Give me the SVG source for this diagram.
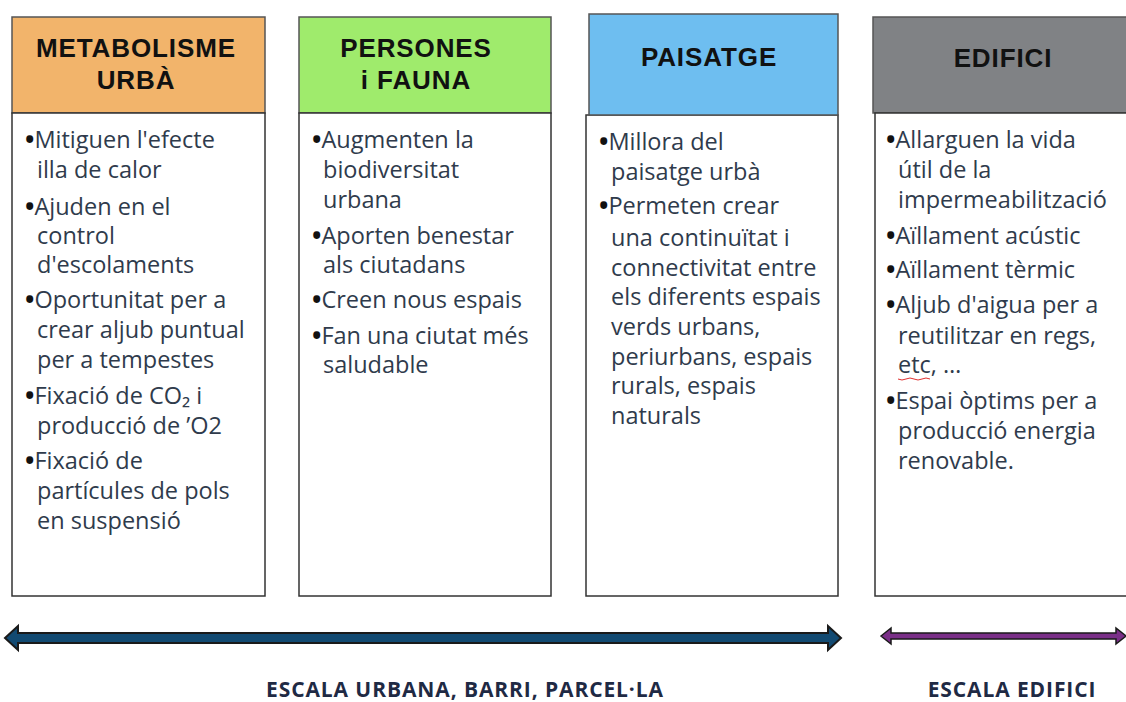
<svg xmlns="http://www.w3.org/2000/svg" width="1126" height="702" viewBox="0 0 1126 702">
<style>
.hdr{stroke:#555;stroke-width:1.5}
.body{fill:#fff;stroke:#333;stroke-width:1.5}
.ht{font-family:"Liberation Sans",Arial,sans-serif;font-weight:bold;font-size:26px;fill:#111;text-anchor:middle;letter-spacing:0.9px}
.bt{font-family:"Open Sans","Liberation Sans",sans-serif;font-size:23.5px;fill:#2f3b4c}
.b{font-weight:bold;font-size:25px;fill:#111}
.lab{font-family:"Open Sans","Liberation Sans",sans-serif;font-weight:bold;font-size:21px;fill:#1f2a44;text-anchor:middle;letter-spacing:0.9px}
</style>
<rect width="1126" height="702" fill="#fff"/>
<g id="metabolisme">
<rect class="hdr" x="12" y="17" width="253" height="96" fill="#f2b46b"/>
<text class="ht" x="136" y="57">METABOLISME</text>
<text class="ht" x="136" y="89">URBÀ</text>
<rect class="body" x="12" y="113" width="253" height="483"/>
<text class="bt"><tspan x="25" y="148"><tspan class="b">•</tspan>Mitiguen l'efecte</tspan><tspan x="37" y="178">illa de calor</tspan><tspan x="25" y="215"><tspan class="b">•</tspan>Ajuden en el</tspan><tspan x="37" y="244">control</tspan><tspan x="37" y="273">d'escolaments</tspan><tspan x="25" y="308"><tspan class="b">•</tspan>Oportunitat per a</tspan><tspan x="37" y="338">crear aljub puntual</tspan><tspan x="37" y="368">per a tempestes</tspan><tspan x="25" y="404"><tspan class="b">•</tspan>Fixació de CO₂ i</tspan><tspan x="37" y="434">producció de ’O2</tspan><tspan x="25" y="469"><tspan class="b">•</tspan>Fixació de</tspan><tspan x="37" y="499">partícules de pols</tspan><tspan x="37" y="529">en suspensió</tspan></text>
</g>
<g id="persones">
<rect class="hdr" x="299" y="17" width="252" height="96" fill="#9feb6c"/>
<text class="ht" x="416" y="57">PERSONES</text>
<text class="ht" x="416" y="89">i FAUNA</text>
<rect class="body" x="299" y="113" width="252" height="483"/>
<text class="bt"><tspan x="312" y="148"><tspan class="b">•</tspan>Augmenten la</tspan><tspan x="323" y="178">biodiversitat</tspan><tspan x="323" y="208">urbana</tspan><tspan x="312" y="244"><tspan class="b">•</tspan>Aporten benestar</tspan><tspan x="323" y="273">als ciutadans</tspan><tspan x="312" y="308"><tspan class="b">•</tspan>Creen nous espais</tspan><tspan x="312" y="344"><tspan class="b">•</tspan>Fan una ciutat més</tspan><tspan x="323" y="373">saludable</tspan></text>
</g>
<g id="paisatge">
<rect class="body" x="586" y="115" width="252" height="481"/>
<rect class="hdr" x="589" y="14" width="249" height="101" fill="#6ebef0"/>
<text class="ht" x="709" y="66">PAISATGE</text>
<text class="bt"><tspan x="599" y="150"><tspan class="b">•</tspan>Millora del</tspan><tspan x="611" y="180">paisatge urbà</tspan><tspan x="599" y="214"><tspan class="b">•</tspan>Permeten crear</tspan><tspan x="611" y="246">una continuïtat i</tspan><tspan x="611" y="276">connectivitat entre</tspan><tspan x="611" y="305">els diferents espais</tspan><tspan x="611" y="335">verds urbans,</tspan><tspan x="611" y="365">periurbans, espais</tspan><tspan x="611" y="394">rurals, espais</tspan><tspan x="611" y="424">naturals</tspan></text>
</g>
<g id="edifici">
<rect class="hdr" x="873" y="17" width="260" height="96" fill="#808285"/>
<text class="ht" x="1003" y="67">EDIFICI</text>
<rect class="body" x="875" y="113" width="260" height="483"/>
<text class="bt"><tspan x="886" y="148"><tspan class="b">•</tspan>Allarguen la vida</tspan><tspan x="898" y="178">útil de la</tspan><tspan x="898" y="208">impermeabilització</tspan><tspan x="886" y="244"><tspan class="b">•</tspan>Aïllament acústic</tspan><tspan x="886" y="278"><tspan class="b">•</tspan>Aïllament tèrmic</tspan><tspan x="886" y="313"><tspan class="b">•</tspan>Aljub d'aigua per a</tspan><tspan x="898" y="344">reutilitzar en regs,</tspan><tspan x="898" y="373">etc, …</tspan><tspan x="886" y="409"><tspan class="b">•</tspan>Espai òptims per a</tspan><tspan x="898" y="439">producció energia</tspan><tspan x="898" y="469">renovable.</tspan></text>
<path d="M898 379 q4 2 8 0 q4 -2 8 0 q4 2 8 0 q4 -2 8 0" fill="none" stroke="#e03030" stroke-width="1"/>
</g>
<g id="connectors">
<path d="M5 638 L18 626 L18 633 L828 633 L828 626 L841 638 L828 650 L828 643 L18 643 L18 650 Z" fill="#124a72" stroke="#1a1a1a" stroke-width="2" stroke-linejoin="miter"/>
<path d="M881 636 L891 628 L891 633 L1116 633 L1116 628 L1126 636 L1116 644 L1116 639 L891 639 L891 644 Z" fill="#7a2f88" stroke="#1a1a1a" stroke-width="1.5"/>
</g>
<text class="lab" x="465" y="697">ESCALA URBANA, BARRI, PARCEL·LA</text>
<text class="lab" x="1012" y="697">ESCALA EDIFICI</text>
</svg>
